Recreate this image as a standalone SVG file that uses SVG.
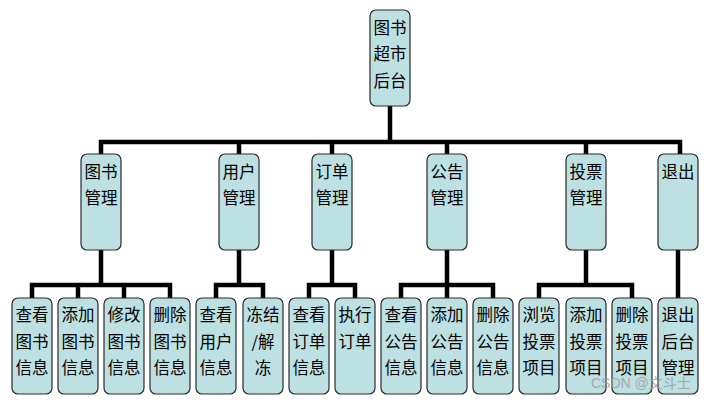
<svg xmlns="http://www.w3.org/2000/svg" width="708" height="400" viewBox="0 0 708 400">
<style>
.b{fill:#bde0e3;stroke:#2a2a2a;stroke-width:1.2}
.t{font-family:"Noto Sans CJK SC","Liberation Sans",sans-serif;font-size:16.5px;fill:#000;text-anchor:middle}
.c{fill:none;stroke:#000;stroke-width:4.5;stroke-linecap:square;stroke-linejoin:miter}
.w{font-family:"Liberation Sans","Noto Sans CJK SC",sans-serif;font-size:14px;fill:#9a9a9a;fill-opacity:0.8}
</style>
<rect width="708" height="400" fill="#fff"/>
<g id="connectors">
<path class="c" d="M390 106V142M101 154V142H680V154M239 142V154M332 142V154M447 142V154M586 142V154"/>
<path class="c" d="M101 250V285M32 298V285H170V298M78 285V298M124 285V298"/>
<path class="c" d="M239 250V285M216 298V285H263V298"/>
<path class="c" d="M332 250V285M309 298V285H355V298"/>
<path class="c" d="M447 250V285M401 298V285H493V298M447 285V298"/>
<path class="c" d="M586 250V285M539 298V285H632V298"/>
<path class="c" d="M678 250V298"/>
</g>
<g id="root"><rect class="b" x="370" y="10" width="40" height="96" rx="6"/><text class="t" x="390" y="34">图书</text><text class="t" x="390" y="60">超市</text><text class="t" x="390" y="87">后台</text></g>
<g id="n-book"><rect class="b" x="81" y="154" width="40" height="96" rx="6"/><text class="t" x="101" y="178">图书</text><text class="t" x="101" y="204">管理</text></g>
<g id="n-user"><rect class="b" x="219" y="154" width="40" height="96" rx="6"/><text class="t" x="239" y="178">用户</text><text class="t" x="239" y="204">管理</text></g>
<g id="n-order"><rect class="b" x="312" y="154" width="40" height="96" rx="6"/><text class="t" x="332" y="178">订单</text><text class="t" x="332" y="204">管理</text></g>
<g id="n-notice"><rect class="b" x="427" y="154" width="40" height="96" rx="6"/><text class="t" x="447" y="178">公告</text><text class="t" x="447" y="204">管理</text></g>
<g id="n-vote"><rect class="b" x="566" y="154" width="40" height="96" rx="6"/><text class="t" x="586" y="178">投票</text><text class="t" x="586" y="204">管理</text></g>
<g id="n-exit"><rect class="b" x="658" y="154" width="40" height="96" rx="6"/><text class="t" x="678" y="178">退出</text></g>
<g id="l-1"><rect class="b" x="12" y="298" width="40" height="96" rx="6"/><text class="t" x="32" y="321">查看</text><text class="t" x="32" y="348">图书</text><text class="t" x="32" y="374">信息</text></g>
<g id="l-2"><rect class="b" x="58" y="298" width="40" height="96" rx="6"/><text class="t" x="78" y="321">添加</text><text class="t" x="78" y="348">图书</text><text class="t" x="78" y="374">信息</text></g>
<g id="l-3"><rect class="b" x="104" y="298" width="40" height="96" rx="6"/><text class="t" x="124" y="321">修改</text><text class="t" x="124" y="348">图书</text><text class="t" x="124" y="374">信息</text></g>
<g id="l-4"><rect class="b" x="150" y="298" width="40" height="96" rx="6"/><text class="t" x="170" y="321">删除</text><text class="t" x="170" y="348">图书</text><text class="t" x="170" y="374">信息</text></g>
<g id="l-5"><rect class="b" x="196" y="298" width="40" height="96" rx="6"/><text class="t" x="216" y="321">查看</text><text class="t" x="216" y="348">用户</text><text class="t" x="216" y="374">信息</text></g>
<g id="l-6"><rect class="b" x="243" y="298" width="40" height="96" rx="6"/><text class="t" x="263" y="321">冻结</text><text class="t" x="263" y="348">/解</text><text class="t" x="263" y="374">冻</text></g>
<g id="l-7"><rect class="b" x="289" y="298" width="40" height="96" rx="6"/><text class="t" x="309" y="321">查看</text><text class="t" x="309" y="348">订单</text><text class="t" x="309" y="374">信息</text></g>
<g id="l-8"><rect class="b" x="335" y="298" width="40" height="96" rx="6"/><text class="t" x="355" y="321">执行</text><text class="t" x="355" y="348">订单</text></g>
<g id="l-9"><rect class="b" x="381" y="298" width="40" height="96" rx="6"/><text class="t" x="401" y="321">查看</text><text class="t" x="401" y="348">公告</text><text class="t" x="401" y="374">信息</text></g>
<g id="l-10"><rect class="b" x="427" y="298" width="40" height="96" rx="6"/><text class="t" x="447" y="321">添加</text><text class="t" x="447" y="348">公告</text><text class="t" x="447" y="374">信息</text></g>
<g id="l-11"><rect class="b" x="473" y="298" width="40" height="96" rx="6"/><text class="t" x="493" y="321">删除</text><text class="t" x="493" y="348">公告</text><text class="t" x="493" y="374">信息</text></g>
<g id="l-12"><rect class="b" x="519" y="298" width="40" height="96" rx="6"/><text class="t" x="539" y="321">浏览</text><text class="t" x="539" y="348">投票</text><text class="t" x="539" y="374">项目</text></g>
<g id="l-13"><rect class="b" x="566" y="298" width="40" height="96" rx="6"/><text class="t" x="586" y="321">添加</text><text class="t" x="586" y="348">投票</text><text class="t" x="586" y="374">项目</text></g>
<g id="l-14"><rect class="b" x="612" y="298" width="40" height="96" rx="6"/><text class="t" x="632" y="321">删除</text><text class="t" x="632" y="348">投票</text><text class="t" x="632" y="374">项目</text></g>
<g id="l-15"><rect class="b" x="658" y="298" width="40" height="96" rx="6"/><text class="t" x="678" y="321">退出</text><text class="t" x="678" y="348">后台</text><text class="t" x="678" y="374">管理</text></g>
<text class="w" x="591" y="388">CSDN @文斗士</text>
</svg>
